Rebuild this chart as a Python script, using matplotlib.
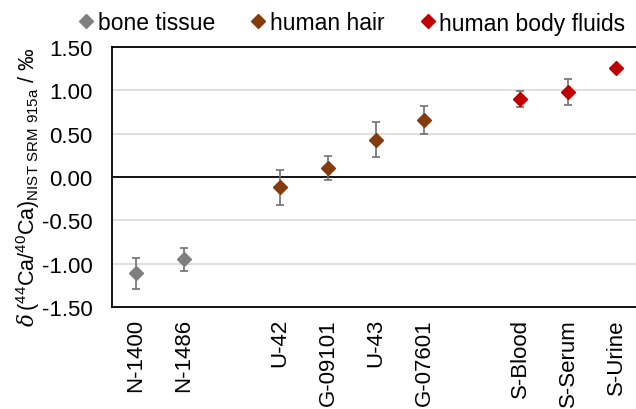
import numpy as np
import matplotlib
matplotlib.use("Agg")
import matplotlib.pyplot as plt
from matplotlib.lines import Line2D

plt.rcParams['font.family'] = ['Liberation Sans', 'DejaVu Sans']
plt.rcParams['mathtext.fontset'] = 'custom'
plt.rcParams['mathtext.rm'] = 'Liberation Sans'
plt.rcParams['mathtext.it'] = 'DejaVu Serif:italic'

# categories (blank slots keep the gaps between groups)
categories = ['N-1400', 'N-1486', '', 'U-42', 'G-09101', 'U-43', 'G-07601',
              '', 'S-Blood', 'S-Serum', 'S-Urine']

bone_pos = [0, 1]
bone_val = [-1.11, -0.95]
bone_err = [0.18, 0.13]

hair_pos = [3, 4, 5, 6]
hair_val = [-0.12, 0.10, 0.43, 0.66]
hair_err = [0.20, 0.14, 0.20, 0.16]

fluid_pos = [8, 9, 10]
fluid_val = [0.90, 0.98, 1.26]
fluid_err = [0.09, 0.15, 0.0]

series = [
    ('bone tissue', bone_pos, bone_val, bone_err, '#7f7f7f'),
    ('human hair', hair_pos, hair_val, hair_err, '#843c0c'),
    ('human body fluids', fluid_pos, fluid_val, fluid_err, '#c00000'),
]

fig = plt.figure(figsize=(6.36, 4.10), dpi=100)
ax = fig.add_axes([112/636, 1-308/410, 528/636, 260/410])

for label, pos, val, err, col in series:
    e = np.array(err)
    ax.errorbar(pos, val, yerr=np.where(e > 0, e, np.nan), fmt='none',
                ecolor='#6f6f6f', elinewidth=1.2, capsize=3, capthick=1.2, zorder=3)
    ax.plot(pos, val, 'D', color=col, markersize=7, zorder=4, label=label)

ax.set_xlim(-0.5, len(categories) - 0.5)
ax.set_ylim(-1.5, 1.5)
ax.set_yticks(np.arange(-1.5, 1.51, 0.5))
ax.set_yticklabels([f'{v:.2f}' for v in np.arange(-1.5, 1.51, 0.5)], fontsize=16)
ax.set_xticks(range(len(categories)))
ax.set_xticklabels(categories, rotation=90, fontsize=16)
ax.tick_params(axis='y', length=0, pad=14)
ax.tick_params(axis='x', length=0, pad=8)

for v in [-1.0, -0.5, 0.5, 1.0]:
    ax.axhline(v, color='#d9d9d9', lw=1.2, zorder=1)
ax.axhline(0, color='black', lw=1.3, zorder=2)
for s in ax.spines.values():
    s.set_color('black')
    s.set_linewidth(1.3)

ax.set_ylabel(r'$\mathit{\delta}\,$($^{44}$Ca/$^{40}$Ca)$_{\mathrm{NIST\ SRM\ 915a}}$ / ‰',
              fontsize=15.5)
ax.yaxis.set_label_coords(-0.133, 0.465)

handles = [Line2D([], [], marker='D', ls='none', color=c, markersize=7) for _, _, _, _, c in series]
fig.legend(handles, [s[0] for s in series], loc='center', ncol=3,
           bbox_to_anchor=(0.554, 1-24/410), frameon=False, fontsize=16.5,
           handlelength=0.6, handletextpad=0.2, columnspacing=1.6)

fig.savefig('out.png', dpi=100)
